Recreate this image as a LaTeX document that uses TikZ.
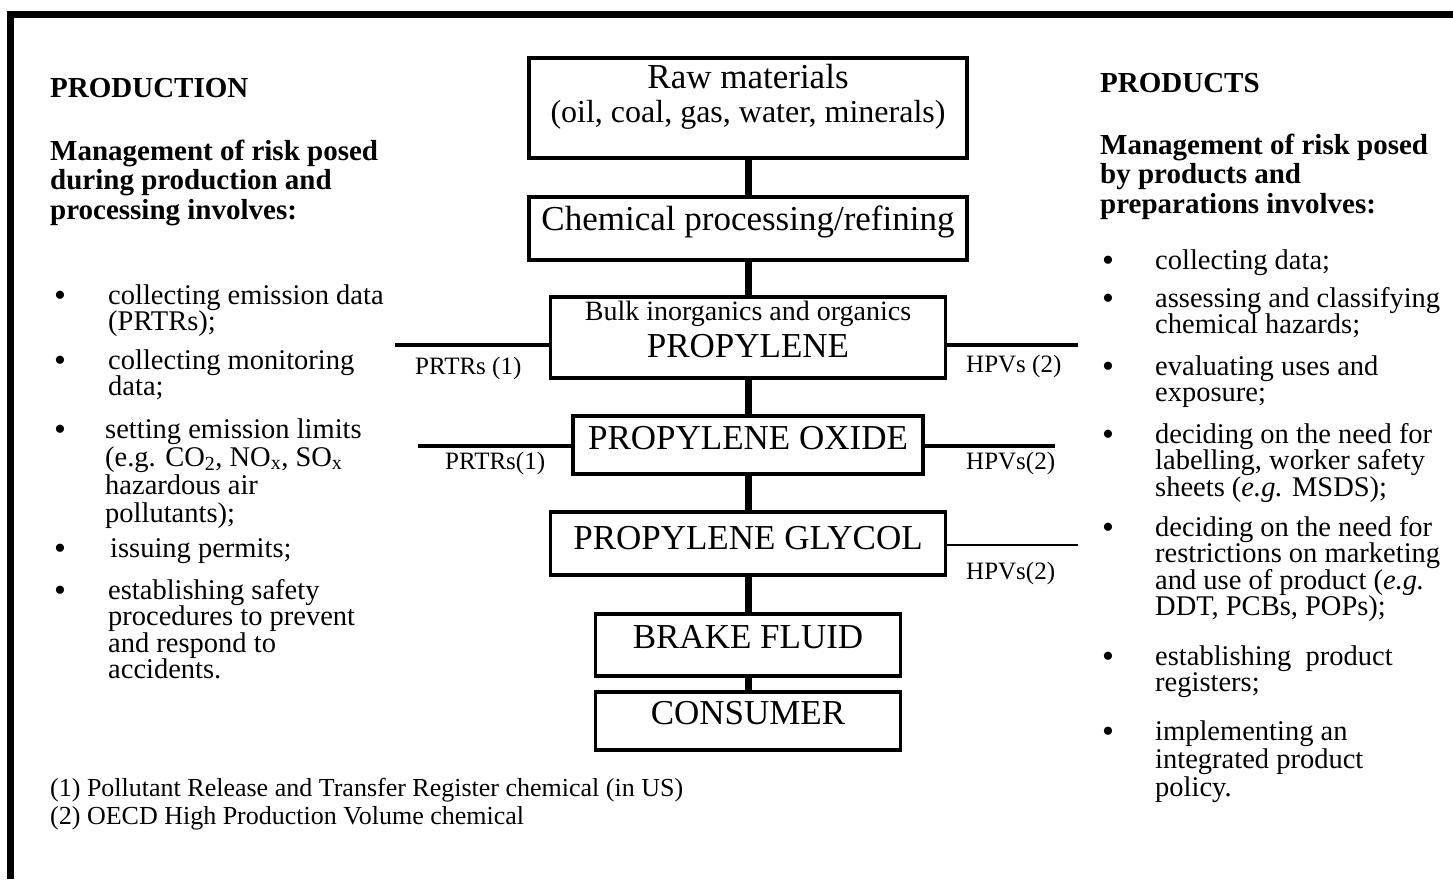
\documentclass[tikz,border=0pt]{standalone}
\usepackage{fontspec}
\setmainfont{Liberation Serif}
\begin{document}
\begin{tikzpicture}[x=1pt,y=-1pt,
  box/.style={draw, line width=3.5pt, rectangle, inner sep=0pt},
  conn/.style={line width=7pt},
  side/.style={line width=4pt},
  sidethin/.style={line width=2.2pt},
  body/.style={font=\fontsize{28.5}{26.5}\selectfont, align=left, anchor=base west, inner sep=0pt},
  head/.style={font=\fontsize{29}{29.5}\selectfont\bfseries, align=left, anchor=base west, inner sep=0pt},
  bul/.style={font=\fontsize{34}{34}\selectfont, anchor=base, inner sep=0pt},
  boxtxt/.style={font=\fontsize{35}{35}\selectfont, anchor=base, inner sep=0pt},
  lbl/.style={font=\fontsize{25}{25}\selectfont, anchor=base west, inner sep=0pt},
  foot/.style={font=\fontsize{26}{28}\selectfont, align=left, anchor=base west, inner sep=0pt}]
\useasboundingbox (0,0) rectangle (1453,879);
% frame
\draw[line width=7pt, line join=miter] (10,879) -- (10,14) -- (1453,14);

% central boxes
\node[box, minimum width=438, minimum height=100] (raw) at (748,108) {};
\node[box, minimum width=438, minimum height=63] (chem) at (748,228.5) {};
\node[box, minimum width=395, minimum height=81] (bulk) at (748,337.5) {};
\node[box, minimum width=350, minimum height=58] (oxide) at (748,445) {};
\node[box, minimum width=395, minimum height=63] (glycol) at (748,543.5) {};
\node[box, minimum width=305, minimum height=62] (brake) at (748,645) {};
\node[box, minimum width=305, minimum height=58] (consumer) at (748,721) {};

% box texts
\node[boxtxt] (rawt) at (748,88) {Raw materials};
\node[boxtxt, font=\fontsize{32}{32}\selectfont] (rawt2) at (748,122) {(oil, coal, gas, water, minerals)};
\node[boxtxt] (chemt) at (748,230) {Chemical processing/refining};
\node[boxtxt, font=\fontsize{28}{28}\selectfont] (bulkt) at (748,320) {Bulk inorganics and organics};
\node[boxtxt] (bulkt2) at (748,357) {PROPYLENE};
\node[boxtxt] (oxidet) at (748,449) {PROPYLENE OXIDE};
\node[boxtxt] (glycolt) at (748,549) {PROPYLENE GLYCOL};
\node[boxtxt] (braket) at (748,648) {BRAKE FLUID};
\node[boxtxt] (consumert) at (748,724) {CONSUMER};

% vertical connectors
\draw[conn] (raw.south) -- (chem.north);
\draw[conn] (chem.south) -- (bulk.north);
\draw[conn] (bulk.south) -- (oxide.north);
\draw[conn] (oxide.south) -- (glycol.north);
\draw[conn] (glycol.south) -- (brake.north);
\draw[conn] (brake.south) -- (consumer.north);

% side lines
\coordinate (pl1) at (395,345);
\coordinate (pr1) at (1078,345);
\coordinate (pl2) at (418,446);
\coordinate (pr2) at (1055,446);
\coordinate (pr3) at (1078,545);
\draw[side] (pl1) -- (pl1 -| bulk.west);
\draw[side] (bulk.east |- pr1) -- (pr1);
\draw[side] (pl2) -- (pl2 -| oxide.west);
\draw[side] (oxide.east |- pr2) -- (pr2);
\draw[sidethin] (glycol.east |- pr3) -- (pr3);

\node[lbl] (l1) at (415,374) {PRTRs (1)};
\node[lbl] (r1) at (966,372) {HPVs (2)};
\node[lbl] (l2) at (445,469) {PRTRs(1)};
\node[lbl] (r2) at (966,469) {HPVs(2)};
\node[lbl] (r3) at (966,579) {HPVs(2)};

% left column (multi-line nodes are placed at the baseline of their last line)
\node[head] (ph) at (50,97) {PRODUCTION};
\node[head] (pm) at (50,219) {Management of risk posed\\during production and\\processing involves:};
\node[bul] (lb1) at (60,306) {\textbullet};
\node[body] (lt1) at (108,330.5) {collecting emission data\\(PRTRs);};
\node[bul] (lb2) at (60,371) {\textbullet};
\node[body] (lt2) at (108,395.5) {collecting monitoring\\data;};
\node[bul] (lb3) at (60,440) {\textbullet};
\node[body, font=\fontsize{28.5}{28}\selectfont] (lt3) at (105,522) {setting emission limits\\(e.g. CO\textsubscript{2}, NO\textsubscript{x}, SO\textsubscript{x}\\hazardous air\\pollutants);};
\node[bul] (lb4) at (60,559) {\textbullet};
\node[body] (lt4) at (110,557) {issuing permits;};
\node[bul] (lb5) at (60,601) {\textbullet};
\node[body] (lt5) at (108,678.5) {establishing safety\\procedures to prevent\\and respond to\\accidents.};

% right column
\node[head] (rh) at (1100,92) {PRODUCTS};
\node[head] (rm) at (1100,213) {Management of risk posed\\by products and\\preparations involves:};
\node[bul] (rb1) at (1108,271) {\textbullet};
\node[body] (rt1) at (1155,269) {collecting data;};
\node[bul] (rb2) at (1108,309) {\textbullet};
\node[body] (rt2) at (1155,333.5) {assessing and classifying\\chemical hazards;};
\node[bul] (rb3) at (1108,377) {\textbullet};
\node[body] (rt3) at (1155,401.5) {evaluating uses and\\exposure;};
\node[bul] (rb4) at (1108,445) {\textbullet};
\node[body] (rt4) at (1155,496) {deciding on the need for\\labelling, worker safety\\sheets (\textit{e.g.} MSDS);};
\node[bul] (rb5) at (1108,538) {\textbullet};
\node[body] (rt5) at (1155,615.5) {deciding on the need for\\restrictions on marketing\\and use of product (\textit{e.g.}\\DDT, PCBs, POPs);};
\node[bul] (rb6) at (1108,667) {\textbullet};
\node[body] (rt6) at (1155,691.5) {establishing\ \ product\\registers;};
\node[bul] (rb7) at (1108,742) {\textbullet};
\node[body, font=\fontsize{28.5}{28}\selectfont] (rt7) at (1155,796) {implementing an\\integrated product\\policy.};

% footnotes
\node[foot] (fn) at (50,824) {(1) Pollutant Release and Transfer Register chemical (in US)\\(2) OECD High Production Volume chemical};
\end{tikzpicture}
\end{document}
